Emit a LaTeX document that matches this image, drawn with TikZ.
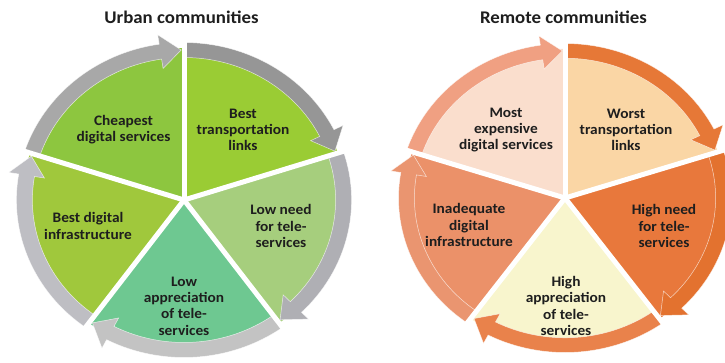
\documentclass[tikz,border=0pt]{standalone}
\usepackage{fontspec}
\setmainfont{Carlito}[FakeStretch=1.06]
\definecolor{gA}{HTML}{8DC63F}
\definecolor{gB}{HTML}{9ACC34}
\definecolor{gC}{HTML}{A6CE7D}
\definecolor{gD}{HTML}{6EC891}
\definecolor{gE}{HTML}{A0C83C}
\definecolor{bA}{HTML}{A8A8A8}
\definecolor{bB}{HTML}{969696}
\definecolor{bC}{HTML}{AFAFB4}
\definecolor{bD}{HTML}{C3C3C3}
\definecolor{bE}{HTML}{BEBEC3}
\definecolor{oA}{HTML}{FADECD}
\definecolor{oB}{HTML}{FAD6A5}
\definecolor{oC}{HTML}{E8783C}
\definecolor{oD}{HTML}{F8F5CD}
\definecolor{oE}{HTML}{EB9169}
\definecolor{rA}{HTML}{F0A082}
\definecolor{rB}{HTML}{E67837}
\definecolor{rC}{HTML}{E3722F}
\definecolor{rD}{HTML}{E9824B}
\definecolor{rE}{HTML}{EA9570}
\definecolor{ink}{HTML}{1E1E1E}
\tikzset{
  lbl/.style={align=center, inner sep=0pt, text=ink, font=\bfseries\fontsize{14.5}{16.3}\selectfont},
  ttl/.style={anchor=base, inner sep=0pt, text=ink, font=\bfseries\fontsize{17.8}{20}\selectfont},
  gapline/.style={white, line width=5pt},
  band/.style={draw=white, draw opacity=0.7, line width=0.5pt}
}
\begin{document}
\begin{tikzpicture}[x=1pt,y=1pt]
\useasboundingbox (0,0) rectangle (725,362);
\clip (0,0) rectangle (725,362);
% ---------- Urban ring ----------
\begin{scope}[shift={(184,162)}, xscale=1.064]
\foreach \a/\fc in {162/gA, 90/gB, 18/gC, -54/gD, -126/gE} {
  \pgfmathsetmacro\b{\a-72}
  \fill[\fc] (0,0) -- (\a:152pt) arc[start angle=\a, end angle=\b, radius=152pt] -- cycle;
}
\foreach \a/\bc in {162/bA, 90/bB, 18/bC, -54/bD, -126/bE} {
  \pgfmathsetmacro\h{\a-72+8.5}
  \pgfmathsetmacro\t{\a-72+1}
  \filldraw[band, fill=\bc] (\a:157.5pt) arc[start angle=\a, end angle=\h, radius=157.5pt]
    -- (\h:167pt) -- (\t:150pt) -- (\h:133pt) -- (\h:142.5pt)
    arc[start angle=\h, end angle=\a, radius=142.5pt] -- cycle;
}
\foreach \g in {90,18,-54,-126,162} \draw[gapline] (0,0) -- (\g:180pt);
\end{scope}
% ---------- Remote ring ----------
\begin{scope}[shift={(565,164)}, xscale=1.057, yscale=0.981]
\foreach \a/\fc in {162/oA, 90/oB, 18/oC, -54/oD, -126/oE} {
  \pgfmathsetmacro\b{\a-72}
  \fill[\fc] (0,0) -- (\a:152pt) arc[start angle=\a, end angle=\b, radius=152pt] -- cycle;
}
\foreach \a/\bc in {162/rA, 90/rB, 18/rC, -54/rD, -126/rE} {
  \pgfmathsetmacro\h{\a-72+8.5}
  \pgfmathsetmacro\t{\a-72+1}
  \filldraw[band, fill=\bc] (\a:157.5pt) arc[start angle=\a, end angle=\h, radius=157.5pt]
    -- (\h:167pt) -- (\t:150pt) -- (\h:133pt) -- (\h:142.5pt)
    arc[start angle=\h, end angle=\a, radius=142.5pt] -- cycle;
}
\foreach \g in {90,18,-54,-126,162} \draw[gapline] (0,0) -- (\g:180pt);
\end{scope}
% ---------- titles ----------
\node[ttl] (ut) at (181.5,338) {Urban communities};
\node[ttl] (rt) at (563.5,338) {Remote communities};
% ---------- urban labels ----------
\node[lbl] (u1) at (123.5,232.5) {Cheapest\\digital services};
\node[lbl] (u2) at (243,232) {Best\\transportation\\links};
\node[lbl] (u3) at (281,136) {Low need\\for tele-\\services};
\node[lbl] (u4) at (184,56) {Low\\appreciation\\of tele-\\services};
\node[lbl] (u5) at (88,136) {Best digital\\infrastructure};
% ---------- remote labels ----------
\node[lbl] (r1) at (506,232) {Most\\expensive\\digital services};
\node[lbl] (r2) at (626,232) {Worst\\transportation\\links};
\node[lbl] (r3) at (664,136) {High need\\for tele-\\services};
\node[lbl] (r4) at (566,56) {High\\appreciation\\of tele-\\services};
\node[lbl] (r5) at (469,137) {Inadequate\\digital\\infrastructure};
\end{tikzpicture}
\end{document}
